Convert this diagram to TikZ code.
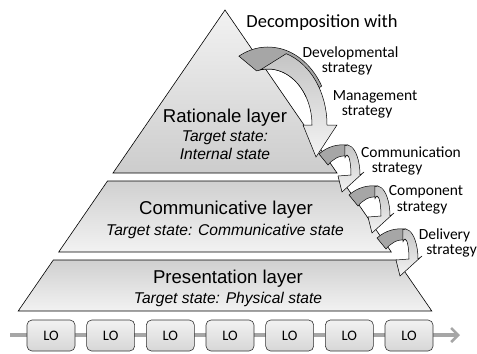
\documentclass[tikz,border=0pt]{standalone}
\usepackage{fontspec}
\setmainfont{Liberation Sans}
\newfontfamily\calibrifont{Carlito}
\usetikzlibrary{arrows.meta}

\definecolor{backface}{RGB}{166,166,166}
\definecolor{frontTop}{RGB}{196,196,196}
\definecolor{frontBot}{RGB}{244,244,244}
\definecolor{layerTop}{RGB}{208,208,208}
\definecolor{layerBot}{RGB}{242,242,242}
\definecolor{flowgray}{RGB}{166,166,166}

\tikzset{
  layer/.style={draw=black, line width=0.6bp, top color=layerTop, bottom color=layerBot},
  apexlayer/.style={draw=black, line width=0.6bp, top color=layerBot, bottom color=layerTop!110!layerBot},
  arrowback/.style={draw=black, line width=0.5bp, fill=backface},
  arrowfront/.style={draw=black, line width=0.5bp, top color=frontTop, bottom color=frontBot},
  title/.style={anchor=base, inner sep=0pt, font=\fontsize{18.6bp}{22bp}\selectfont},
  subtitle/.style={anchor=base, inner sep=0pt, font=\fontsize{15.6bp}{18bp}\selectfont\itshape},
  strat/.style={anchor=base, inner sep=0pt, font=\calibrifont\fontsize{15.5bp}{18bp}\selectfont},
  lobox/.style={draw=black!80, line width=0.6bp, rounded corners=5bp,
    top color=white!95!black, bottom color=white!84!black,
    minimum width=48bp, minimum height=31bp, inner sep=0pt,
    font=\calibrifont\fontsize{14.5bp}{16bp}\selectfont},
  flow/.style={draw=flowgray, line width=3.2bp,
    -{Straight Barb[length=7bp,width=14bp,line width=2.6bp]}}
}

% small curved arrow, origin at the centre of its arch
\newcommand{\smallcurvedarrow}[1]{%
  \begin{scope}[shift={#1}]
    \filldraw[arrowback] (-28,21) .. controls (-19,29) and (-9,31) .. (1,30)
      -- (1,19) .. controls (-8,20) and (-14,16) .. (-19,10) -- cycle;
    \shade[arrowfront] (120:4 and 20) -- (100:13 and 30)
      arc[start angle=100, end angle=0, x radius=13, y radius=30]
      -- (17,3) -- (-5,-17) -- (-9,-1) -- (4,0)
      arc[start angle=0, end angle=120, x radius=4, y radius=20] -- cycle;
  \end{scope}}

\begin{document}
\begin{tikzpicture}[x=1bp, y=1bp]
\useasboundingbox (0,0) rectangle (477,-353);

% pyramid layers
\shade[apexlayer] (225,-10) -- (337,-173) -- (113,-173) -- cycle;
\shade[layer] (107.5,-181) -- (342.5,-181) -- (391.3,-252) -- (58.7,-252) -- cycle;
\shade[layer] (53.3,-260) -- (396.7,-260) -- (431.8,-311) -- (18.2,-311) -- cycle;

% layer captions
\node[title]    (rat)   at (225,-122) {Rationale layer};
\node[subtitle] (ratA)  at (225,-141) {Target state:};
\node[subtitle] (ratB)  at (225,-159) {Internal state};
\node[title]    (com)   at (226,-214) {Communicative layer};
\node[subtitle] (comA)  at (225,-235) {Target state: Communicative state};
\node[title]    (pre)   at (228,-283) {Presentation layer};
\node[subtitle] (preA)  at (228,-303) {Target state: Physical state};

% large curved arrow
\begin{scope}[shift={(268,-125)}]
  \filldraw[arrowback] (118:62 and 78)
    arc[start angle=118, end angle=30, x radius=62, y radius=78]
    -- (30:44 and 56)
    arc[start angle=30, end angle=105, x radius=44, y radius=56] -- cycle;
  \shade[arrowfront] (100:44 and 56) -- (72:59 and 75)
    arc[start angle=72, end angle=0, x radius=59, y radius=75]
    -- (69,0) -- (48,-32) -- (35,0) -- (44,0)
    arc[start angle=0, end angle=100, x radius=44, y radius=56] -- cycle;
\end{scope}

% small curved arrows
\smallcurvedarrow{(347,-175)}
\smallcurvedarrow{(377,-216)}
\smallcurvedarrow{(405,-259)}

% strategy labels
\node[strat, font=\calibrifont\fontsize{18.5bp}{22bp}\selectfont] (dec) at (322,-27) {Decomposition with};
\node[strat] (devA) at (350.5,-57) {Developmental};
\node[strat] (devB) at (347,-72) {strategy};
\node[strat] (manA) at (375,-100) {Management};
\node[strat] (manB) at (367,-115) {strategy};
\node[strat] (cmnA) at (411,-157) {Communication};
\node[strat] (cmnB) at (397,-172) {strategy};
\node[strat] (cmpA) at (426,-195) {Component};
\node[strat] (cmpB) at (422,-211) {strategy};
\node[strat] (delA) at (444.5,-239) {Delivery};
\node[strat] (delB) at (451.5,-254) {strategy};

% learning object sequence
\coordinate (flowstart) at (10,-335);
\coordinate (flowend) at (460,-335);
\draw[flow] (flowstart) -- (flowend);
\foreach \i in {0,...,6}{
  \node[lobox] (lo\i) at ({51+59.67*\i},-335.5) {LO};
}
\end{tikzpicture}
\end{document}
